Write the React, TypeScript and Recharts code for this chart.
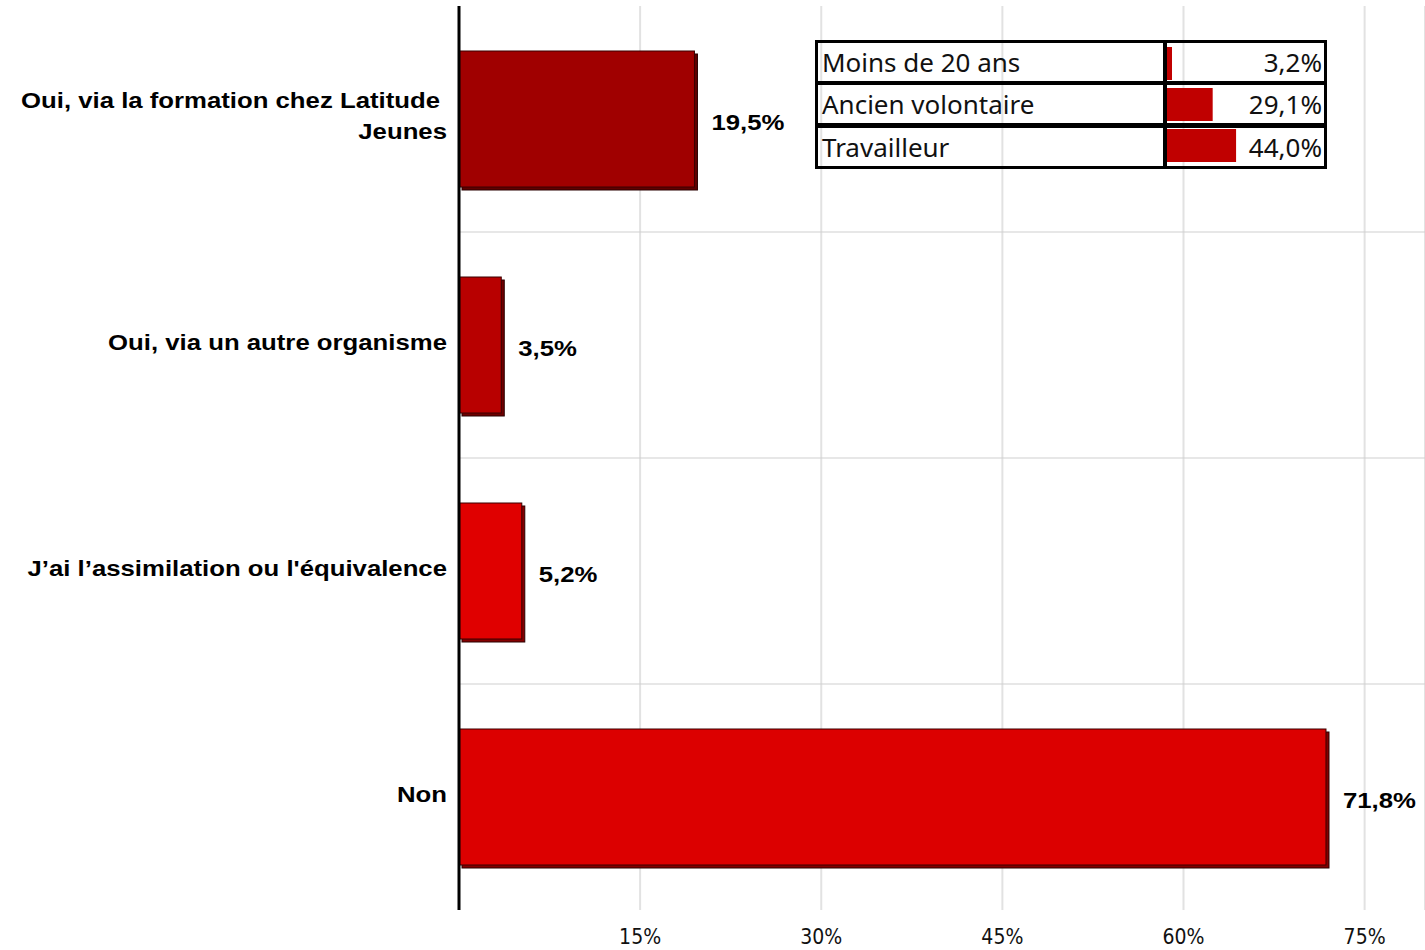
import React from "react";
import {
  BarChart,
  Bar,
  XAxis,
  YAxis,
  CartesianGrid,
  LabelList,
  Cell,
} from "recharts";

// main question
const categories = [
  "Oui, via la formation chez Latitude Jeunes",
  "Oui, via un autre organisme",
  "J’ai l’assimilation ou l'équivalence",
  "Non",
];
const shares = [0.195, 0.035, 0.052, 0.718];
const barColors = ["#a00000", "#b80000", "#e00000", "#dc0000"];
const xTicks = [0.15, 0.3, 0.45, 0.6, 0.75];

// inset table (profile breakdown)
const profileLabels = ["Moins de 20 ans", "Ancien volontaire", "Travailleur"];
const profileShares = [0.032, 0.291, 0.44];

const data = categories.map((name, i) => ({ name, value: shares[i] }));
const profileData = profileLabels.map((name, i) => ({
  name,
  value: profileShares[i],
}));

const fmt = (v: number) => (v * 100).toFixed(1).replace(".", ",") + "%";

const darken = (hex: string, f = 0.6) => {
  const n = parseInt(hex.slice(1), 16);
  const r = Math.round(((n >> 16) & 255) * f);
  const g = Math.round(((n >> 8) & 255) * f);
  const b = Math.round((n & 255) * f);
  return `rgb(${r},${g},${b})`;
};

const wrap = (text: string, max: number) => {
  const words = text.split(" ");
  const lines: string[] = [];
  let cur = "";
  words.forEach((w) => {
    const next = cur ? cur + " " + w : w;
    if (next.length > max && cur) {
      lines.push(cur);
      cur = w;
    } else cur = next;
  });
  if (cur) lines.push(cur);
  return lines;
};

const labelFont = {
  fontFamily: "'Liberation Sans', Arial, sans-serif",
  fontWeight: 700,
  fontSize: 22,
  fill: "#000",
};

const CategoryTick = (props: any) => {
  const { x, y, payload } = props;
  const lines = wrap(payload.value, 36);
  const lh = 31;
  const start = y - ((lines.length - 1) * lh) / 2 - 3;
  return (
    <g>
      {lines.map((l, i) => (
        <text
          key={i}
          transform={`translate(${x - 10 - (i < lines.length - 1 ? 7 : 0)}, ${
            start + i * lh
          }) scale(1.17,1)`}
          textAnchor="end"
          dominantBaseline="central"
          {...labelFont}
        >
          {l}
        </text>
      ))}
    </g>
  );
};

const PercentTick = (props: any) => {
  const { x, y, payload } = props;
  return (
    <text
      x={x}
      y={y + 25}
      textAnchor="middle"
      dominantBaseline="central"
      fontFamily="'DejaVu Sans Condensed', 'DejaVu Sans', sans-serif"
      fontSize={21}
      fill="#111"
    >
      {Math.round(payload.value * 100)}%
    </text>
  );
};

const ShadowBar = (props: any) => {
  const { x, y, width, height, fill } = props;
  if (!width || width <= 0) return null;
  return (
    <g>
      <rect
        x={x + 3}
        y={y + 3}
        width={width}
        height={height}
        fill={darken(fill)}
        stroke="#2a0000"
        strokeWidth={1}
      />
      <rect
        x={x}
        y={y}
        width={width}
        height={height}
        fill={fill}
        stroke="#3a0000"
        strokeWidth={1}
      />
    </g>
  );
};

const ValueLabel = (props: any) => {
  const { x, y, width, height, value } = props;
  return (
    <text
      transform={`translate(${x + width + 17}, ${y + height / 2 + 3}) scale(1.17,1)`}
      dominantBaseline="central"
      {...labelFont}
    >
      {fmt(value)}
    </text>
  );
};

const cellText = {
  fontFamily: "'Noto Sans', sans-serif",
  fontSize: 26,
  lineHeight: "38px",
  color: "#111",
  whiteSpace: "nowrap" as const,
};

function ProfileTable() {
  const rowH = 38;
  const seps = [4, 5];
  return (
    <>
      <div style={{ position: "absolute", left: 1167, top: 43, width: 157, height: 123 }}>
        <BarChart
          width={157}
          height={123}
          layout="vertical"
          data={profileData}
          margin={{ top: 0, right: 0, bottom: 0, left: 0 }}
        >
          <XAxis type="number" domain={[0, 1]} hide />
          <YAxis type="category" dataKey="name" hide />
          <Bar dataKey="value" fill="#c00000" barSize={33} isAnimationActive={false} />
        </BarChart>
      </div>
      <div
        style={{
          position: "absolute",
          left: 815,
          top: 40,
          width: 512,
          height: 129,
          boxSizing: "border-box",
          border: "3px solid #000",
        }}
      >
        {profileData.map((row, i) => (
          <div
            key={row.name}
            style={{
              display: "flex",
              height: rowH,
              borderBottom: i < seps.length ? `${seps[i]}px solid #000` : "none",
            }}
          >
            <div style={{ ...cellText, width: 345, paddingLeft: 4, boxSizing: "border-box" }}>
              {row.name}
            </div>
            <div style={{ width: 4, background: "#000" }} />
            <div
              style={{
                ...cellText,
                flex: 1,
                textAlign: "right",
                paddingRight: 2,
              }}
            >
              {fmt(row.value)}
            </div>
          </div>
        ))}
      </div>
    </>
  );
}

export default function App() {
  return (
    <div
      style={{
        position: "absolute",
        left: 0,
        top: 0,
        width: 1425,
        height: 950,
        background: "#fff",
      }}
    >
      <BarChart
        width={1425}
        height={950}
        layout="vertical"
        data={data}
        margin={{ top: 6, right: 0, bottom: 0, left: 0 }}
      >
        <CartesianGrid horizontal={false} stroke="#e2e2e2" strokeWidth={2} />
        <CartesianGrid
          vertical={false}
          stroke="#cfcfcf"
          strokeWidth={1}
          horizontalCoordinatesGenerator={({ offset }: any) =>
            [1, 2, 3].map((i) => offset.top + (offset.height * i) / categories.length)
          }
        />
        <XAxis
          type="number"
          domain={[0, 0.8]}
          ticks={xTicks}
          axisLine={false}
          tickLine={false}
          tickSize={0}
          height={40}
          tick={<PercentTick />}
        />
        <YAxis
          type="category"
          dataKey="name"
          width={459}
          tickLine={false}
          tickSize={0}
          axisLine={{ stroke: "#000", strokeWidth: 3 }}
          tick={<CategoryTick />}
          interval={0}
        />
        <Bar dataKey="value" barSize={136} shape={<ShadowBar />} isAnimationActive={false}>
          {data.map((_, i) => (
            <Cell key={i} fill={barColors[i]} />
          ))}
          <LabelList dataKey="value" content={<ValueLabel />} />
        </Bar>
      </BarChart>
      <ProfileTable />
    </div>
  );
}
